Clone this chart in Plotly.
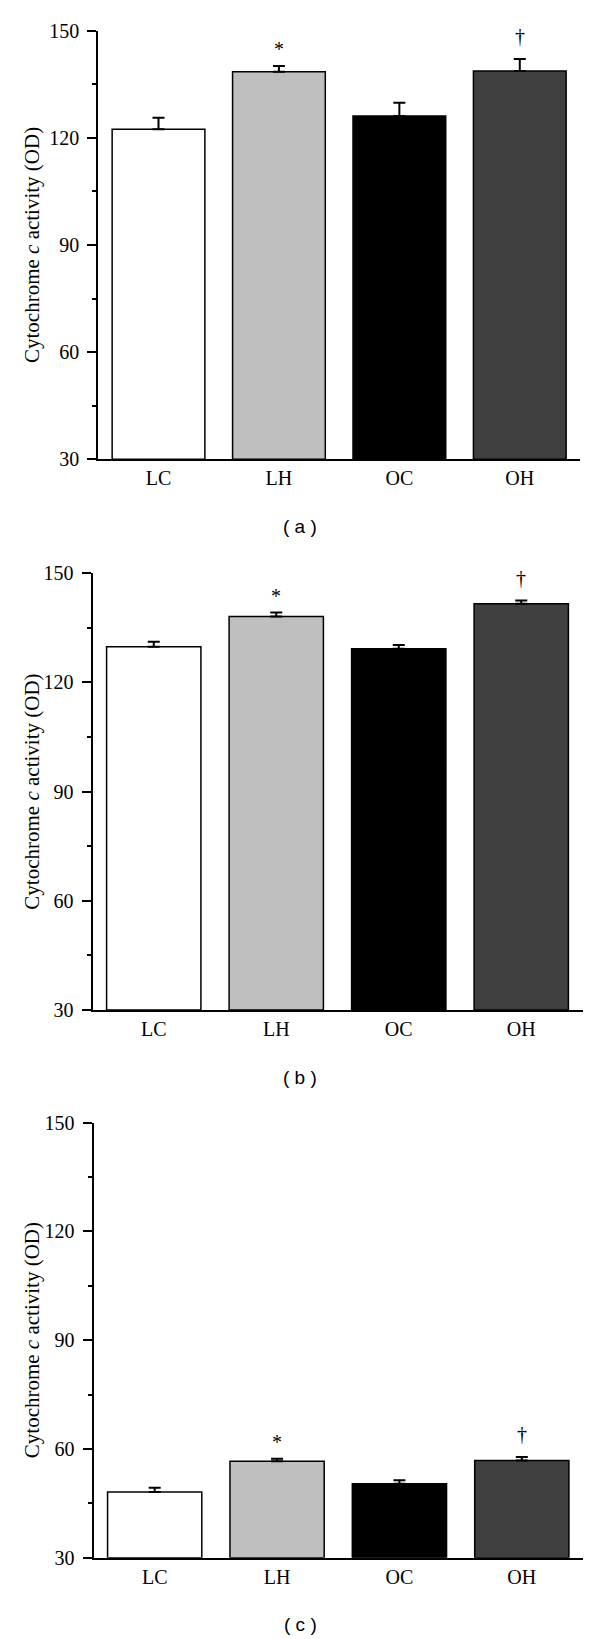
import plotly.graph_objects as go

# data
groups = ["LC", "LH", "OC", "OH"]
bar_colors = ["#ffffff", "#bfbfbf", "#000000", "#404040"]

means_a = [122.4, 138.5, 126.1, 138.7]
err_a = [3.2, 1.6, 3.7, 3.4]
means_b = [129.8, 138.1, 129.3, 141.6]
err_b = [1.4, 1.1, 1.0, 0.9]
means_c = [48.1, 56.6, 50.4, 56.8]
err_c = [1.2, 0.7, 1.0, 1.0]

sig_marks = ["", "*", "", "†"]
panel_labels = ["( a )", "( b )", "( c )"]
y_ticks = [30, 60, 90, 120, 150]

# the page body keeps its default 8px margin, so the figure is drawn
# 8px smaller and every page-pixel position is shifted by that amount
OFF = 8
W, H = 600 - OFF, 1639 - OFF
SERIF = "Liberation Serif"

# page-pixel boxes for each panel: (left, right, top, bottom)
boxes = [
    (98.3, 580.0, 30.7, 459.3),
    (92.5, 582.5, 573.3, 1010.0),
    (93.5, 583.0, 1122.7, 1557.7),
]


def px(x):
    return (x - OFF) / W


def py(y):
    return 1 - (y - OFF) / H


panels = [(means_a, err_a), (means_b, err_b), (means_c, err_c)]

fig = go.Figure()
layout = dict(
    width=W, height=H,
    margin=dict(l=0, r=0, t=0, b=0, pad=0, autoexpand=False),
    paper_bgcolor="white", plot_bgcolor="white",
    showlegend=False,
    font=dict(family=SERIF, size=20, color="black"),
    annotations=[],
)

for i, ((means, errs), box) in enumerate(zip(panels, boxes)):
    left, right, top, bottom = box
    n = "" if i == 0 else str(i + 1)
    fig.add_trace(go.Bar(
        x=groups, y=[m - 30 for m in means], base=30,
        width=0.77,
        marker=dict(color=bar_colors, line=dict(color="black", width=1.5)),
        error_y=dict(type="data", symmetric=False, array=errs,
                     arrayminus=[0] * len(errs),
                     color="black", thickness=2, width=6),
        xaxis="x" + n, yaxis="y" + n,
    ))
    layout["xaxis" + n] = dict(
        domain=[px(left), px(right)], anchor="y" + n, automargin=False,
        range=[-0.5, 3.5], showline=True, linecolor="black", linewidth=2,
        ticks="", showgrid=False, zeroline=False,
        tickfont=dict(family=SERIF, size=20),
    )
    layout["yaxis" + n] = dict(
        domain=[py(bottom), py(top)], anchor="x" + n, automargin=False,
        range=[30, 150], tickvals=y_ticks, showline=True, linecolor="black",
        linewidth=2, ticks="outside", ticklen=9, tickwidth=2,
        tickcolor="black", showgrid=False, zeroline=False,
        ticklabelstandoff=4,
        tickfont=dict(family=SERIF, size=20),
        minor=dict(tick0=30, dtick=15, ticks="outside", ticklen=4,
                   tickwidth=1.5, tickcolor="black", showgrid=False),
    )
    # significance marks above error bars
    for g, m, e, s in zip(groups, means, errs, sig_marks):
        if s:
            layout["annotations"].append(dict(
                x=g, y=m + e, xref="x" + n, yref="y" + n,
                text=s, showarrow=False, xanchor="center", yanchor="middle",
                yshift=17 if s == "*" else 23,
                font=dict(family=SERIF, size=20),
            ))
    # y axis title
    layout["annotations"].append(dict(
        x=px(32), y=py((top + bottom) / 2), xref="paper", yref="paper",
        xanchor="center", yanchor="middle",
        text="Cytochrome <i>c</i> activity (OD)", textangle=-90,
        showarrow=False, font=dict(family=SERIF, size=21),
    ))
    # panel label
    layout["annotations"].append(dict(
        x=px(300), y=py(bottom + 67), xref="paper", yref="paper",
        xanchor="center", yanchor="middle",
        text=panel_labels[i], showarrow=False,
        font=dict(family="Liberation Sans", size=19),
    ))

fig.update_layout(**layout)
fig.write_html("out.html")
